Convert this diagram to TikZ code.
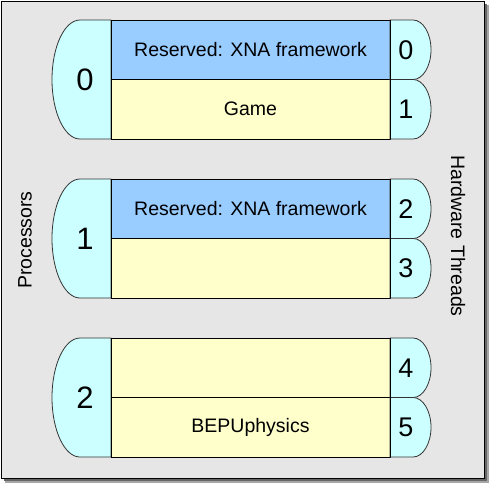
\documentclass[tikz,border=0pt]{standalone}
\usepackage{fontspec}
\setmainfont{Liberation Sans}
\usetikzlibrary{positioning}

\definecolor{procfill}{HTML}{CCFFFF}
\definecolor{resfill}{HTML}{99CCFF}
\definecolor{taskfill}{HTML}{FFFFCC}
\definecolor{backfill}{HTML}{E6E6E6}

\tikzset{
  task/.style={rectangle,draw,line width=1pt,minimum width=279pt,minimum height=59.5pt,inner sep=0pt,font=\fontsize{19.5}{22}\selectfont},
  curved/.style={fill=procfill,draw=black!80,line width=0.8pt},
  procnum/.style={font=\fontsize{31}{34}\selectfont},
  threadnum/.style={font=\fontsize{27}{30}\selectfont},
  sidelabel/.style={font=\fontsize{19.5}{22}\selectfont}
}

\begin{document}
\begin{tikzpicture}[x=1pt,y=-1pt]
    \useasboundingbox (0,0) rectangle (489,483);
    % frame with shadow
    \fill[black!35] (5,5) rectangle (489,483);
    \fill[black!60] (4,4) rectangle (487,481);
    \filldraw[fill=backfill,draw=black,line width=1pt] (1,1) rectangle (484,478);

    \foreach \p/\y/\toptext/\topcol/\bottext in {0/20/{Reserved: XNA framework}/resfill/Game,
                                                 1/179/{Reserved: XNA framework}/resfill/{},
                                                 2/338/{}/taskfill/BEPUphysics} {
      \pgfmathtruncatemacro{\ta}{2*\p}
      \pgfmathtruncatemacro{\tb}{2*\p+1}
      % processor
      \filldraw[curved] (111,\y) -- (80,\y) arc[start angle=270,end angle=90,x radius=28,y radius=59.5] -- (111,\y+119) -- cycle;
      \node[procnum] (proc\p) at (85,\y+59.5) {\p};
      % tasks
      \node[task,fill=\topcol] (top\p) at (250.5,\y+29.75) {\toptext};
      \node[task,fill=taskfill] (bot\p) at (250.5,\y+89.25) {\bottext};
      % hardware threads
      \filldraw[curved] (390,\y) -- (413,\y) arc[start angle=-90,end angle=90,x radius=18,y radius=29.75] -- (390,\y+59.5) -- cycle;
      \filldraw[curved] (390,\y+59.5) -- (413,\y+59.5) arc[start angle=-90,end angle=90,x radius=18,y radius=29.75] -- (390,\y+119) -- cycle;
      \draw[line width=1pt] (390,\y) -- (390,\y+119);
      \node[threadnum] (thread\ta) at (406,\y+29.75) {\ta};
      \node[threadnum] (thread\tb) at (406,\y+89.25) {\tb};
    }

    \node[sidelabel,rotate=90] (procs) at (25,240) {Processors};
    \node[sidelabel,rotate=-90] (threads) at (458,236) {Hardware Threads};
\end{tikzpicture}
\end{document}
